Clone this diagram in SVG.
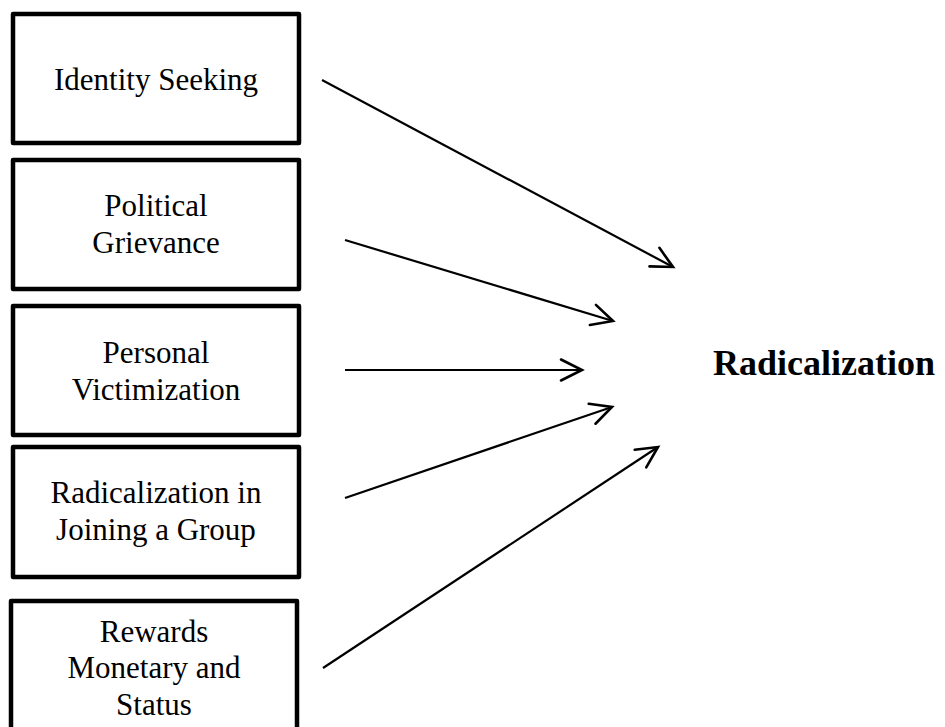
<svg xmlns="http://www.w3.org/2000/svg" width="945" height="727" viewBox="0 0 945 727">
<style>
.box{fill:#fff;stroke:#000;stroke-width:4.5;stroke-linejoin:round}
.t{font-family:"Liberation Serif","Times New Roman",serif;font-size:31px;fill:#000;text-anchor:middle}
.b{font-family:"Liberation Serif","Times New Roman",serif;font-size:36px;font-weight:bold;fill:#000}
.c{stroke:#000;stroke-width:2.2;fill:none}
</style>
<defs>
<marker id="ah" markerUnits="userSpaceOnUse" markerWidth="30" markerHeight="30" viewBox="-25 -15 30 30" refX="0" refY="0" orient="auto">
<path d="M-21,-10.5 L0,0 L-21,10.5" fill="none" stroke="#000" stroke-width="2.6" stroke-linecap="round" stroke-linejoin="miter"/>
</marker>
</defs>
<rect width="945" height="727" fill="#fff"/>
<g id="n1"><rect class="box" x="13" y="14" width="286" height="129"/><text class="t" x="156" y="90">Identity Seeking</text></g>
<g id="n2"><rect class="box" x="13" y="160" width="286" height="129"/><text class="t" x="156" y="216">Political</text><text class="t" x="156" y="253">Grievance</text></g>
<g id="n3"><rect class="box" x="13" y="306" width="286" height="129"/><text class="t" x="156" y="363">Personal</text><text class="t" x="156" y="400">Victimization</text></g>
<g id="n4"><rect class="box" x="13" y="447" width="286" height="130"/><text class="t" x="156" y="503">Radicalization in</text><text class="t" x="156" y="540">Joining a Group</text></g>
<g id="n5"><rect class="box" x="11" y="601" width="286" height="145"/><text class="t" x="154" y="642">Rewards</text><text class="t" x="154" y="678">Monetary and</text><text class="t" x="154" y="715">Status</text></g>
<g id="target"><text class="b" x="713" y="375">Radicalization</text></g>
<g id="connectors">
<line class="c" x1="322" y1="80" x2="673" y2="267" marker-end="url(#ah)"/>
<line class="c" x1="345" y1="240" x2="613" y2="321" marker-end="url(#ah)"/>
<line class="c" x1="345" y1="370" x2="582" y2="370" marker-end="url(#ah)"/>
<line class="c" x1="345" y1="498" x2="612" y2="407" marker-end="url(#ah)"/>
<line class="c" x1="323" y1="668" x2="658" y2="447" marker-end="url(#ah)"/>
</g>
</svg>
